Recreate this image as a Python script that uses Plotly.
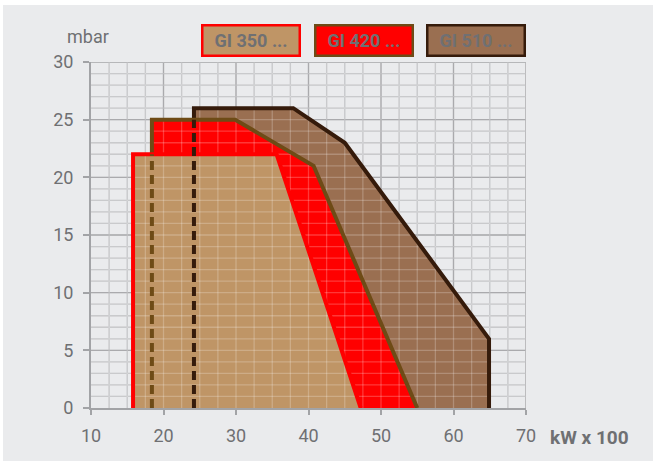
import numpy as np
import plotly.graph_objects as go

# ---------------- data ----------------
series_names = ["GI 350 ...", "GI 420 ...", "GI 510 ..."]
# boundary of each working field: x in kW x 100, y in mbar
gi350_x = [15.8, 15.8, 35.6, 47.2]
gi350_y = [0, 22, 22, 0]
gi420_x = [18.4, 18.4, 29.9, 40.7, 55.0]
gi420_y = [0, 25, 25, 21, 0]
gi510_x = [24.2, 24.2, 37.9, 45.0, 64.9, 64.9]
gi510_y = [0, 26, 26, 23, 6, 0]

x_ticks = [10, 20, 30, 40, 50, 60, 70]
y_ticks = [0, 5, 10, 15, 20, 25, 30]
x_minor_step = 2.5
y_minor_step = 1

# ---------------- styles ----------------
fill_colors = ["#bf9566", "#ff0000", "#9a6f51"]
line_colors = ["#ff0000", "#6e4b16", "#351b0b"]
BG = "#eaebed"
TXT = "#6f7073"

xs = [gi350_x, gi420_x, gi510_x]
ys = [gi350_y, gi420_y, gi510_y]

fig = go.Figure()

def vlines(vals):
    gx, gy = [], []
    for v in vals:
        gx += [v, v, None]
        gy += [y_ticks[0], y_ticks[-1], None]
    return gx, gy

def hlines(vals):
    gx, gy = [], []
    for v in vals:
        gx += [x_ticks[0], x_ticks[-1], None]
        gy += [v, v, None]
    return gx, gy

x_minor = [v for v in np.arange(x_ticks[0], x_ticks[-1] + 0.01, x_minor_step) if v not in x_ticks]
y_minor = [v for v in np.arange(y_ticks[0], y_ticks[-1] + 0.01, y_minor_step) if v not in y_ticks]
mvx, mvy = vlines(x_minor)
mhx, mhy = hlines(y_minor)
Mvx, Mvy = vlines(x_ticks[1:])
Mhx, Mhy = hlines(y_ticks[1:])
all_x = mvx + mhx + Mvx + Mhx
all_y = mvy + mhy + Mvy + Mhy

# base grid (under the fields)
fig.add_trace(go.Scatter(x=mvx + mhx, y=mvy + mhy, mode="lines",
                         line=dict(color="rgb(186,187,190)", width=1.3),
                         hoverinfo="skip", showlegend=False))
fig.add_trace(go.Scatter(x=Mvx + Mhx, y=Mvy + Mhy, mode="lines",
                         line=dict(color="rgb(146,147,150)", width=1.3),
                         hoverinfo="skip", showlegend=False))

# fills: back to front (510, 420, 350)
order = [2, 1, 0]
for i in order:
    fig.add_trace(go.Scatter(x=xs[i], y=ys[i], mode="lines", fill="toself",
                             fillcolor=fill_colors[i], line=dict(width=0),
                             hoverinfo="skip", showlegend=False))

# light grid showing through the fields
fig.add_trace(go.Scatter(x=all_x, y=all_y, mode="lines",
                         line=dict(color="rgba(255,255,255,0.22)", width=1.3),
                         hoverinfo="skip", showlegend=False))

# outlines: the left edge is hidden (dashed) where a front field covers it
def cover_height(i, x0):
    h = 0.0
    for j in range(i):
        h = max(h, float(np.interp(x0, xs[j][1:], ys[j][1:], left=0, right=0)))
    return h

for i in order:
    x0 = xs[i][0]
    c = cover_height(i, x0)
    fig.add_trace(go.Scatter(x=[x0] + xs[i][1:], y=[c] + ys[i][1:], mode="lines",
                             line=dict(color=line_colors[i], width=4),
                             hoverinfo="skip", showlegend=False))
for i in order:
    x0 = xs[i][0]
    c = cover_height(i, x0)
    if c > 0:
        fig.add_trace(go.Scatter(x=[x0, x0], y=[ys[i][0], c], mode="lines",
                                 line=dict(color=line_colors[i], width=4, dash="9px,5px"),
                                 hoverinfo="skip", showlegend=False))

# legend boxes as annotations
L, R, T, B = 91, 127, 62, 53
W, H = 653, 461
pw, ph = W - L - R, H - T - B
def px2paper(px, py):
    return (px - L) / pw, (H - B - py) / ph

centers = [250.5, 363.5, 475.5]
for k in range(3):
    ax_, ay_ = px2paper(centers[k], 40)
    fig.add_annotation(x=ax_, y=ay_, xref="paper", yref="paper",
                       text="<b>" + series_names[k] + "</b>", showarrow=False,
                       width=95, height=28, borderpad=0, borderwidth=2.5,
                       bordercolor=line_colors[k], bgcolor=fill_colors[k],
                       font=dict(family="Roboto", size=18, color=TXT),
                       xanchor="center", yanchor="middle", align="center")

mx, my = px2paper(88, 37)
fig.add_annotation(x=mx, y=my, xref="paper", yref="paper", text="mbar",
                   showarrow=False, font=dict(family="Roboto", size=18, color=TXT),
                   xanchor="center", yanchor="middle")
kx, ky = px2paper(548, 438)
fig.add_annotation(x=kx, y=ky, xref="paper", yref="paper", text="<b>kW x 100</b>",
                   showarrow=False, font=dict(family="Roboto", size=19, color=TXT),
                   xanchor="left", yanchor="middle")

# light background with thin white edge at top/left
bx0, by1 = px2paper(3, 5)
bx1, by0 = px2paper(W + 5, H + 5)
fig.add_shape(type="rect", xref="paper", yref="paper", x0=bx0, x1=bx1, y0=by0, y1=by1,
              fillcolor=BG, line=dict(width=0), layer="below")

axis_col = "#a2a3a6"
fig.update_xaxes(range=[x_ticks[0], x_ticks[-1]], tickvals=x_ticks, showgrid=False,
                 zeroline=False, showline=True, linecolor=axis_col, linewidth=2,
                 ticks="outside", ticklen=5, tickwidth=1.5, tickcolor=axis_col,
                 tickfont=dict(family="Roboto", size=18, color=TXT),
                 ticklabelstandoff=5)
fig.update_yaxes(range=[y_ticks[0], y_ticks[-1]], tickvals=y_ticks, showgrid=False,
                 zeroline=False, showline=True, linecolor=axis_col, linewidth=2,
                 ticks="outside", ticklen=6, tickwidth=1.5, tickcolor=axis_col,
                 tickfont=dict(family="Roboto", size=18, color=TXT),
                 ticklabelstandoff=6)

fig.update_layout(width=W, height=H, margin=dict(l=L, r=R, t=T, b=B),
                  paper_bgcolor="white", plot_bgcolor=BG, showlegend=False)

fig.write_html("out.html", config={"displayModeBar": False},
               post_script="document.body.style.margin='0';")
